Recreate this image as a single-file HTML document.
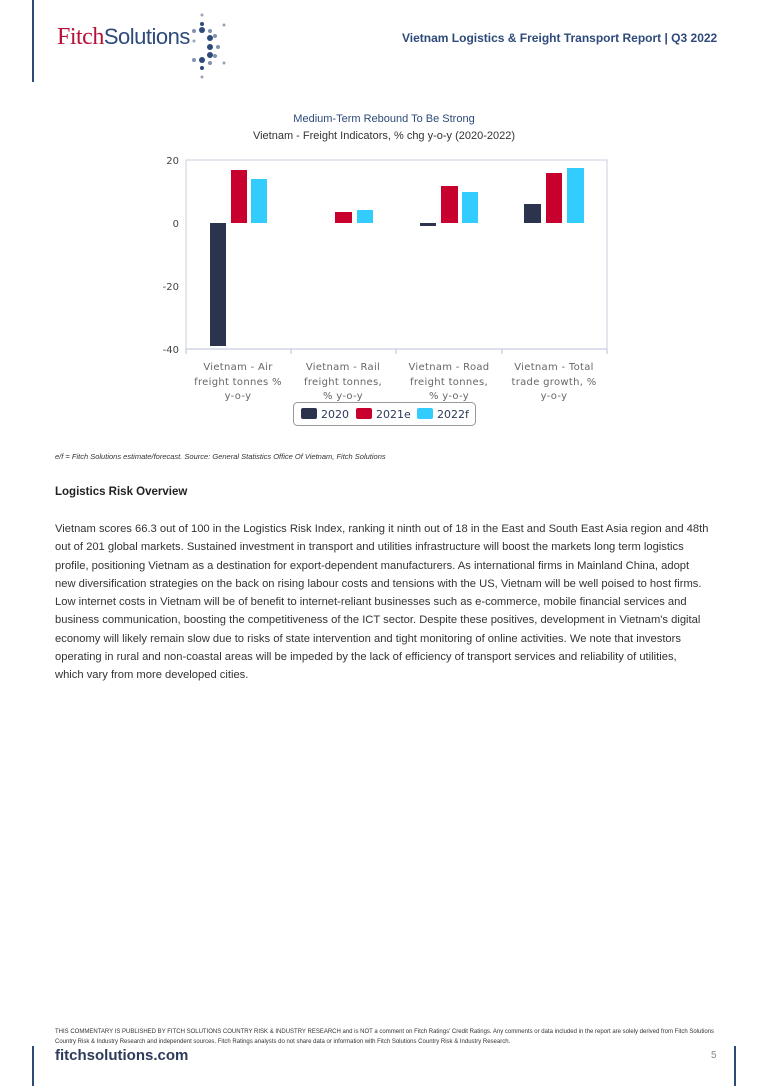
<!DOCTYPE html>
<html><head><meta charset="utf-8"><style>
body{margin:0;width:768px;height:1086px;background:#fff;position:relative;font-family:"Liberation Sans",sans-serif;overflow:hidden}
.a{position:absolute}
p{margin:0}
</style></head><body>
<div class="a" style="left:32px;top:0;width:2px;height:82px;background:#2d4a7a"></div>
<div class="a" style="left:57px;top:24px;font-family:'Liberation Serif',serif;font-size:24px;color:#b5123a;letter-spacing:-0.5px">Fitch<span style="font-family:'Liberation Sans',sans-serif;color:#2d4a7a;font-size:22px">Solutions</span></div>
<svg class="a" style="left:180px;top:5px" width="60" height="75">
<g fill="#2d4a7a"><circle cx="22" cy="10" r="1.5" opacity=".5"/><circle cx="22" cy="19" r="2"/><circle cx="14" cy="26" r="2" opacity=".6"/><circle cx="22" cy="25" r="3"/><circle cx="30" cy="26" r="2" opacity=".6"/><circle cx="35" cy="31" r="2" opacity=".6"/><circle cx="44" cy="20" r="1.5" opacity=".5"/><circle cx="30" cy="33" r="3"/><circle cx="30" cy="42" r="3"/><circle cx="38" cy="42" r="2" opacity=".6"/><circle cx="35" cy="51" r="2" opacity=".6"/><circle cx="30" cy="50" r="3"/><circle cx="22" cy="55" r="3"/><circle cx="14" cy="55" r="2" opacity=".6"/><circle cx="30" cy="58" r="2" opacity=".6"/><circle cx="22" cy="63" r="2"/><circle cx="44" cy="58" r="1.5" opacity=".5"/><circle cx="22" cy="72" r="1.5" opacity=".5"/><circle cx="14" cy="36" r="1.5" opacity=".5"/></g></svg>
<div class="a" style="left:402px;top:31px;font-size:12px;font-weight:bold;color:#2d4a7a">Vietnam Logistics &amp; Freight Transport Report | Q3 2022</div>

<div class="a" style="left:0;top:113px;width:768px;text-align:center;font-size:11px;color:#2d4a7a">Medium-Term Rebound To Be Strong</div>
<div class="a" style="left:0;top:130px;width:768px;text-align:center;font-size:11px;color:#333">Vietnam - Freight Indicators, % chg y-o-y (2020-2022)</div>
<svg class="a" style="left:0;top:0" width="768" height="440" font-family="DejaVu Sans,sans-serif">
<rect x="186" y="160" width="421" height="189" fill="none" stroke="#c8cfdc"/>
<line x1="186" y1="349" x2="607" y2="349" stroke="#b8c2d6"/>
<g stroke="#b8c2d6"><line x1="291" y1="349" x2="291" y2="354"/><line x1="396" y1="349" x2="396" y2="354"/><line x1="502" y1="349" x2="502" y2="354"/><line x1="607" y1="349" x2="607" y2="354"/><line x1="186" y1="349" x2="186" y2="354"/></g>
<g font-size="10" fill="#444" text-anchor="end"><text x="179" y="164">20</text><text x="179" y="227">0</text><text x="179" y="290">-20</text><text x="179" y="353">-40</text></g>
<g fill="#2b344c"><rect x="210" y="223" width="16" height="123"/><rect x="420" y="223" width="16" height="3"/><rect x="524" y="204" width="17" height="19"/></g>
<g fill="#c8002e"><rect x="231" y="170" width="16" height="53"/><rect x="335" y="212" width="17" height="11"/><rect x="441" y="186" width="17" height="37"/><rect x="546" y="173" width="16" height="50"/></g>
<g fill="#33ccff"><rect x="251" y="179" width="16" height="44"/><rect x="357" y="210" width="16" height="13"/><rect x="462" y="192" width="16" height="31"/><rect x="567" y="168" width="17" height="55"/></g>
<g font-size="10" fill="#666" text-anchor="middle" letter-spacing="0.3">
<text x="238" y="370">Vietnam - Air</text><text x="238" y="385">freight tonnes %</text><text x="238" y="399">y-o-y</text>
<text x="343" y="370">Vietnam - Rail</text><text x="343" y="385">freight tonnes,</text><text x="343" y="399">% y-o-y</text>
<text x="449" y="370">Vietnam - Road</text><text x="449" y="385">freight tonnes,</text><text x="449" y="399">% y-o-y</text>
<text x="554" y="370">Vietnam - Total</text><text x="554" y="385">trade growth, %</text><text x="554" y="399">y-o-y</text></g>
<rect x="293.5" y="402.5" width="182" height="23" rx="4" fill="#fff" stroke="#999"/>
<rect x="301" y="408" width="16" height="11" rx="2" fill="#2b344c"/><rect x="356" y="408" width="16" height="11" rx="2" fill="#c8002e"/><rect x="417" y="408" width="16" height="11" rx="2" fill="#33ccff"/>
<g font-size="11" fill="#2d3a5a"><text x="321" y="418">2020</text><text x="376" y="418">2021e</text><text x="437" y="418">2022f</text></g>
<line x1="55" y1="450" x2="713" y2="450" stroke="#555"/>
</svg>
<div class="a" style="left:55px;top:452px;font-size:7.5px;font-style:italic;color:#333">e/f = Fitch Solutions estimate/forecast. Source: General Statistics Office Of Vietnam, Fitch Solutions</div>
<div class="a" style="left:55px;top:486px;font-size:11.5px;font-weight:bold;color:#222">Logistics Risk Overview</div>
<div class="a" style="left:55px;top:520px;width:670px;font-size:11.2px;line-height:18.3px;color:#333">
<p>Vietnam scores 66.3 out of 100 in the Logistics Risk Index, ranking it ninth out of 18 in the East and South East Asia region and 48th</p>
<p>out of 201 global markets. Sustained investment in transport and utilities infrastructure will boost the markets long term logistics</p>
<p>profile, positioning Vietnam as a destination for export-dependent manufacturers. As international firms in Mainland China, adopt</p>
<p>new diversification strategies on the back on rising labour costs and tensions with the US, Vietnam will be well poised to host firms.</p>
<p>Low internet costs in Vietnam will be of benefit to internet-reliant businesses such as e-commerce, mobile financial services and</p>
<p>business communication, boosting the competitiveness of the ICT sector. Despite these positives, development in Vietnam's digital</p>
<p>economy will likely remain slow due to risks of state intervention and tight monitoring of online activities. We note that investors</p>
<p>operating in rural and non-coastal areas will be impeded by the lack of efficiency of transport services and reliability of utilities,</p>
<p>which vary from more developed cities.</p></div>
<div class="a" style="left:55px;top:1027px;width:680px;font-size:6px;line-height:10px;color:#333">THIS COMMENTARY IS PUBLISHED BY FITCH SOLUTIONS COUNTRY RISK &amp; INDUSTRY RESEARCH and is NOT a comment on Fitch Ratings' Credit Ratings. Any comments or data included in the report are solely derived from Fitch Solutions Country Risk &amp; Industry Research and independent sources. Fitch Ratings analysts do not share data or information with Fitch Solutions Country Risk &amp; Industry Research.</div>
<div class="a" style="left:32px;top:1046px;width:2px;height:40px;background:#2d4a7a"></div>
<div class="a" style="left:734px;top:1046px;width:2px;height:40px;background:#2d4a7a"></div>
<div class="a" style="left:55px;top:1047px;font-size:15px;font-weight:bold;color:#2d3a5a">fitchsolutions.com</div>
<div class="a" style="left:711px;top:1050px;font-size:10px;color:#888">5</div>
</body></html>
